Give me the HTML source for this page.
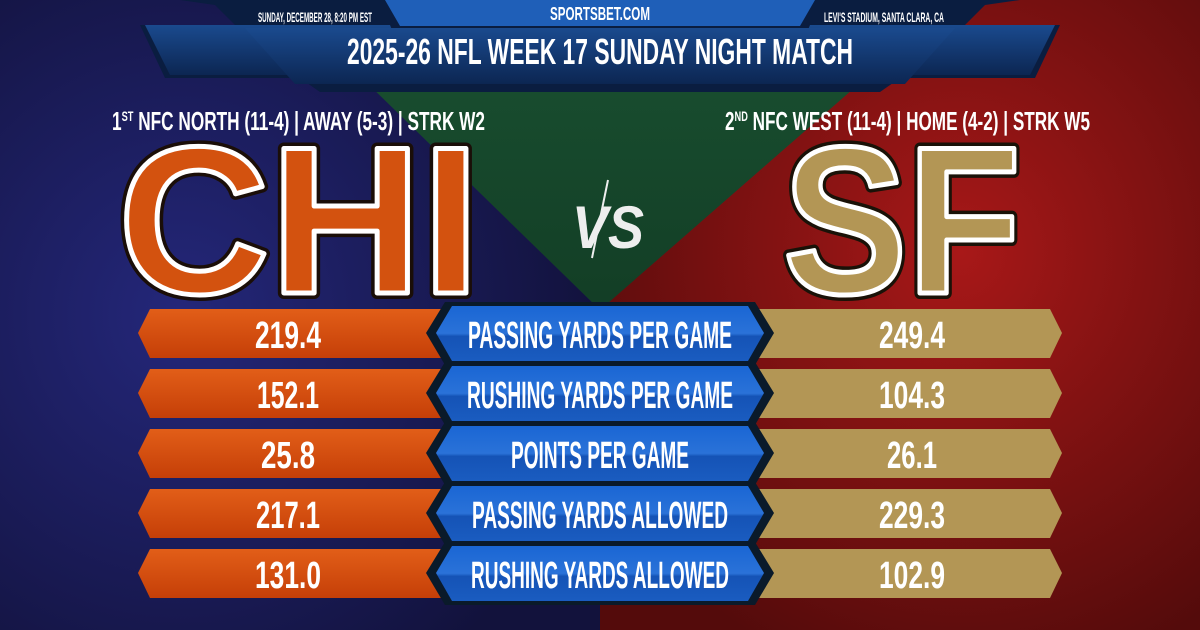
<!DOCTYPE html>
<html><head><meta charset="utf-8"><style>
html,body{margin:0;padding:0;width:1200px;height:630px;overflow:hidden;background:#111}
svg{display:block}
text{font-family:"Liberation Sans",sans-serif;font-weight:bold}
</style></head><body>
<svg width="1200" height="630" viewBox="0 0 1200 630" xmlns="http://www.w3.org/2000/svg">
<defs>
<radialGradient id="gb" cx="0.3" cy="0.5" r="0.7"><stop offset="0" stop-color="#24277a"/><stop offset="1" stop-color="#12123c"/></radialGradient>
<radialGradient id="gr" cx="0.6" cy="0.4" r="0.7"><stop offset="0" stop-color="#a81818"/><stop offset="1" stop-color="#540b0b"/></radialGradient>
<linearGradient id="gg" x1="0" y1="0" x2="0" y2="1"><stop offset="0" stop-color="#1a5232"/><stop offset="1" stop-color="#0b2818"/></linearGradient>
<linearGradient id="go" x1="0" y1="0" x2="0" y2="1"><stop offset="0" stop-color="#e25e18"/><stop offset="1" stop-color="#c53f08"/></linearGradient>
<linearGradient id="gbl" x1="0" y1="0" x2="0" y2="1"><stop offset="0" stop-color="#1a66d4"/><stop offset="0.5" stop-color="#2a72d8"/><stop offset="0.55" stop-color="#1553b6"/><stop offset="1" stop-color="#1a5cc0"/></linearGradient>
<linearGradient id="gh" x1="0" y1="0" x2="0" y2="1"><stop offset="0" stop-color="#1a4a8e"/><stop offset="1" stop-color="#0c2652"/></linearGradient>
</defs>
<rect width="1200" height="630" fill="url(#gg)"/>
<polygon points="0,0 282,0 600,310 600,630 0,630" fill="url(#gb)"/>
<polygon points="955,0 1200,0 1200,630 600,630 600,310" fill="url(#gr)"/>
<!-- header -->
<polygon points="180,0 1020,0 985,5 965,25 1060,25 1035,78 900,78 880,92 320,92 300,78 165,78 140,25 235,25 215,5" fill="#0a1d40"/>
<polygon points="385,0 815,0 800,26 400,26" fill="#1f5fb8"/>
<polygon points="145,25 390,25 410,75 170,75" fill="url(#gh)"/>
<polygon points="810,25 1055,25 1030,75 790,75" fill="url(#gh)"/>
<polygon points="245,28 955,28 905,84 295,84" fill="url(#gh)"/>
<text x="600" y="20" font-size="18" fill="#fff" text-anchor="middle" textLength="100" lengthAdjust="spacingAndGlyphs">SPORTSBET.COM</text>
<text x="258" y="22" font-size="14" fill="#fff" textLength="114" lengthAdjust="spacingAndGlyphs">SUNDAY, DECEMBER 28, 8:20 PM EST</text>
<text x="824" y="22" font-size="14" fill="#fff" textLength="120" lengthAdjust="spacingAndGlyphs">LEVI'S STADIUM, SANTA CLARA, CA</text>
<text x="600" y="64" font-size="36" fill="#fff" text-anchor="middle" textLength="506" lengthAdjust="spacingAndGlyphs">2025-26 NFL WEEK 17 SUNDAY NIGHT MATCH</text>
<!-- records -->
<text x="112" y="130" font-size="26" fill="#fff" textLength="373" lengthAdjust="spacingAndGlyphs">1<tspan font-size="14" dy="-9">ST</tspan><tspan dy="9"> NFC NORTH (11-4) | AWAY (5-3) | STRK W2</tspan></text>
<text x="725" y="130" font-size="26" fill="#fff" textLength="365" lengthAdjust="spacingAndGlyphs">2<tspan font-size="14" dy="-9">ND</tspan><tspan dy="9"> NFC WEST (11-4) | HOME (4-2) | STRK W5</tspan></text>
<!-- big letters -->
<text x="118" y="293" font-size="210" fill="#d3520f" stroke="#1a0e08" stroke-width="12" stroke-linejoin="round" textLength="362" lengthAdjust="spacingAndGlyphs">CHI</text>
<text x="118" y="293" font-size="210" fill="#d3520f" stroke="#fff" stroke-width="5" stroke-linejoin="round" textLength="362" lengthAdjust="spacingAndGlyphs">CHI</text>
<text x="783" y="293" font-size="210" fill="#b39655" stroke="#1a1208" stroke-width="12" stroke-linejoin="round" textLength="238" lengthAdjust="spacingAndGlyphs">SF</text>
<text x="783" y="293" font-size="210" fill="#b39655" stroke="#fff" stroke-width="5" stroke-linejoin="round" textLength="238" lengthAdjust="spacingAndGlyphs">SF</text>
<!-- vs -->
<text x="572" y="248" font-size="60" fill="#eee" font-style="italic" textLength="72" lengthAdjust="spacingAndGlyphs">VS</text>
<line x1="608" y1="180" x2="592" y2="258" stroke="#eee" stroke-width="2"/>
<g font-size="38" fill="#fff" text-anchor="middle">
<g>
<polygon points="138,333 150,309 445,309 445,358 150,358" fill="url(#go)"/>
<polygon points="755,309 1050,309 1062,333 1050,358 755,358" fill="#b39655"/>
<polygon points="426,333 445,302 755,302 774,333 755,365 445,365" fill="#0a1a2a"/>
<polygon points="436,333 452,306 748,306 764,333 748,361 452,361" fill="url(#gbl)"/>
</g>
<g transform="translate(0,60)">
<polygon points="138,333 150,309 445,309 445,358 150,358" fill="url(#go)"/>
<polygon points="755,309 1050,309 1062,333 1050,358 755,358" fill="#b39655"/>
<polygon points="426,333 445,302 755,302 774,333 755,365 445,365" fill="#0a1a2a"/>
<polygon points="436,333 452,306 748,306 764,333 748,361 452,361" fill="url(#gbl)"/>
</g>
<g transform="translate(0,120)">
<polygon points="138,333 150,309 445,309 445,358 150,358" fill="url(#go)"/>
<polygon points="755,309 1050,309 1062,333 1050,358 755,358" fill="#b39655"/>
<polygon points="426,333 445,302 755,302 774,333 755,365 445,365" fill="#0a1a2a"/>
<polygon points="436,333 452,306 748,306 764,333 748,361 452,361" fill="url(#gbl)"/>
</g>
<g transform="translate(0,180)">
<polygon points="138,333 150,309 445,309 445,358 150,358" fill="url(#go)"/>
<polygon points="755,309 1050,309 1062,333 1050,358 755,358" fill="#b39655"/>
<polygon points="426,333 445,302 755,302 774,333 755,365 445,365" fill="#0a1a2a"/>
<polygon points="436,333 452,306 748,306 764,333 748,361 452,361" fill="url(#gbl)"/>
</g>
<g transform="translate(0,240)">
<polygon points="138,333 150,309 445,309 445,358 150,358" fill="url(#go)"/>
<polygon points="755,309 1050,309 1062,333 1050,358 755,358" fill="#b39655"/>
<polygon points="426,333 445,302 755,302 774,333 755,365 445,365" fill="#0a1a2a"/>
<polygon points="436,333 452,306 748,306 764,333 748,361 452,361" fill="url(#gbl)"/>
</g>
<text x="288" y="348" textLength="66" lengthAdjust="spacingAndGlyphs">219.4</text>
<text x="912" y="348" textLength="66" lengthAdjust="spacingAndGlyphs">249.4</text>
<text x="600" y="348" textLength="264" lengthAdjust="spacingAndGlyphs">PASSING YARDS PER GAME</text>
<text x="288" y="408" textLength="62" lengthAdjust="spacingAndGlyphs">152.1</text>
<text x="912" y="408" textLength="66" lengthAdjust="spacingAndGlyphs">104.3</text>
<text x="600" y="408" textLength="266" lengthAdjust="spacingAndGlyphs">RUSHING YARDS PER GAME</text>
<text x="288" y="468" textLength="54" lengthAdjust="spacingAndGlyphs">25.8</text>
<text x="912" y="468" textLength="50" lengthAdjust="spacingAndGlyphs">26.1</text>
<text x="600" y="468" textLength="178" lengthAdjust="spacingAndGlyphs">POINTS PER GAME</text>
<text x="288" y="528" textLength="64" lengthAdjust="spacingAndGlyphs">217.1</text>
<text x="912" y="528" textLength="66" lengthAdjust="spacingAndGlyphs">229.3</text>
<text x="600" y="528" textLength="256" lengthAdjust="spacingAndGlyphs">PASSING YARDS ALLOWED</text>
<text x="288" y="588" textLength="66" lengthAdjust="spacingAndGlyphs">131.0</text>
<text x="912" y="588" textLength="66" lengthAdjust="spacingAndGlyphs">102.9</text>
<text x="600" y="588" textLength="258" lengthAdjust="spacingAndGlyphs">RUSHING YARDS ALLOWED</text>
</g>
</svg>
</body></html>
